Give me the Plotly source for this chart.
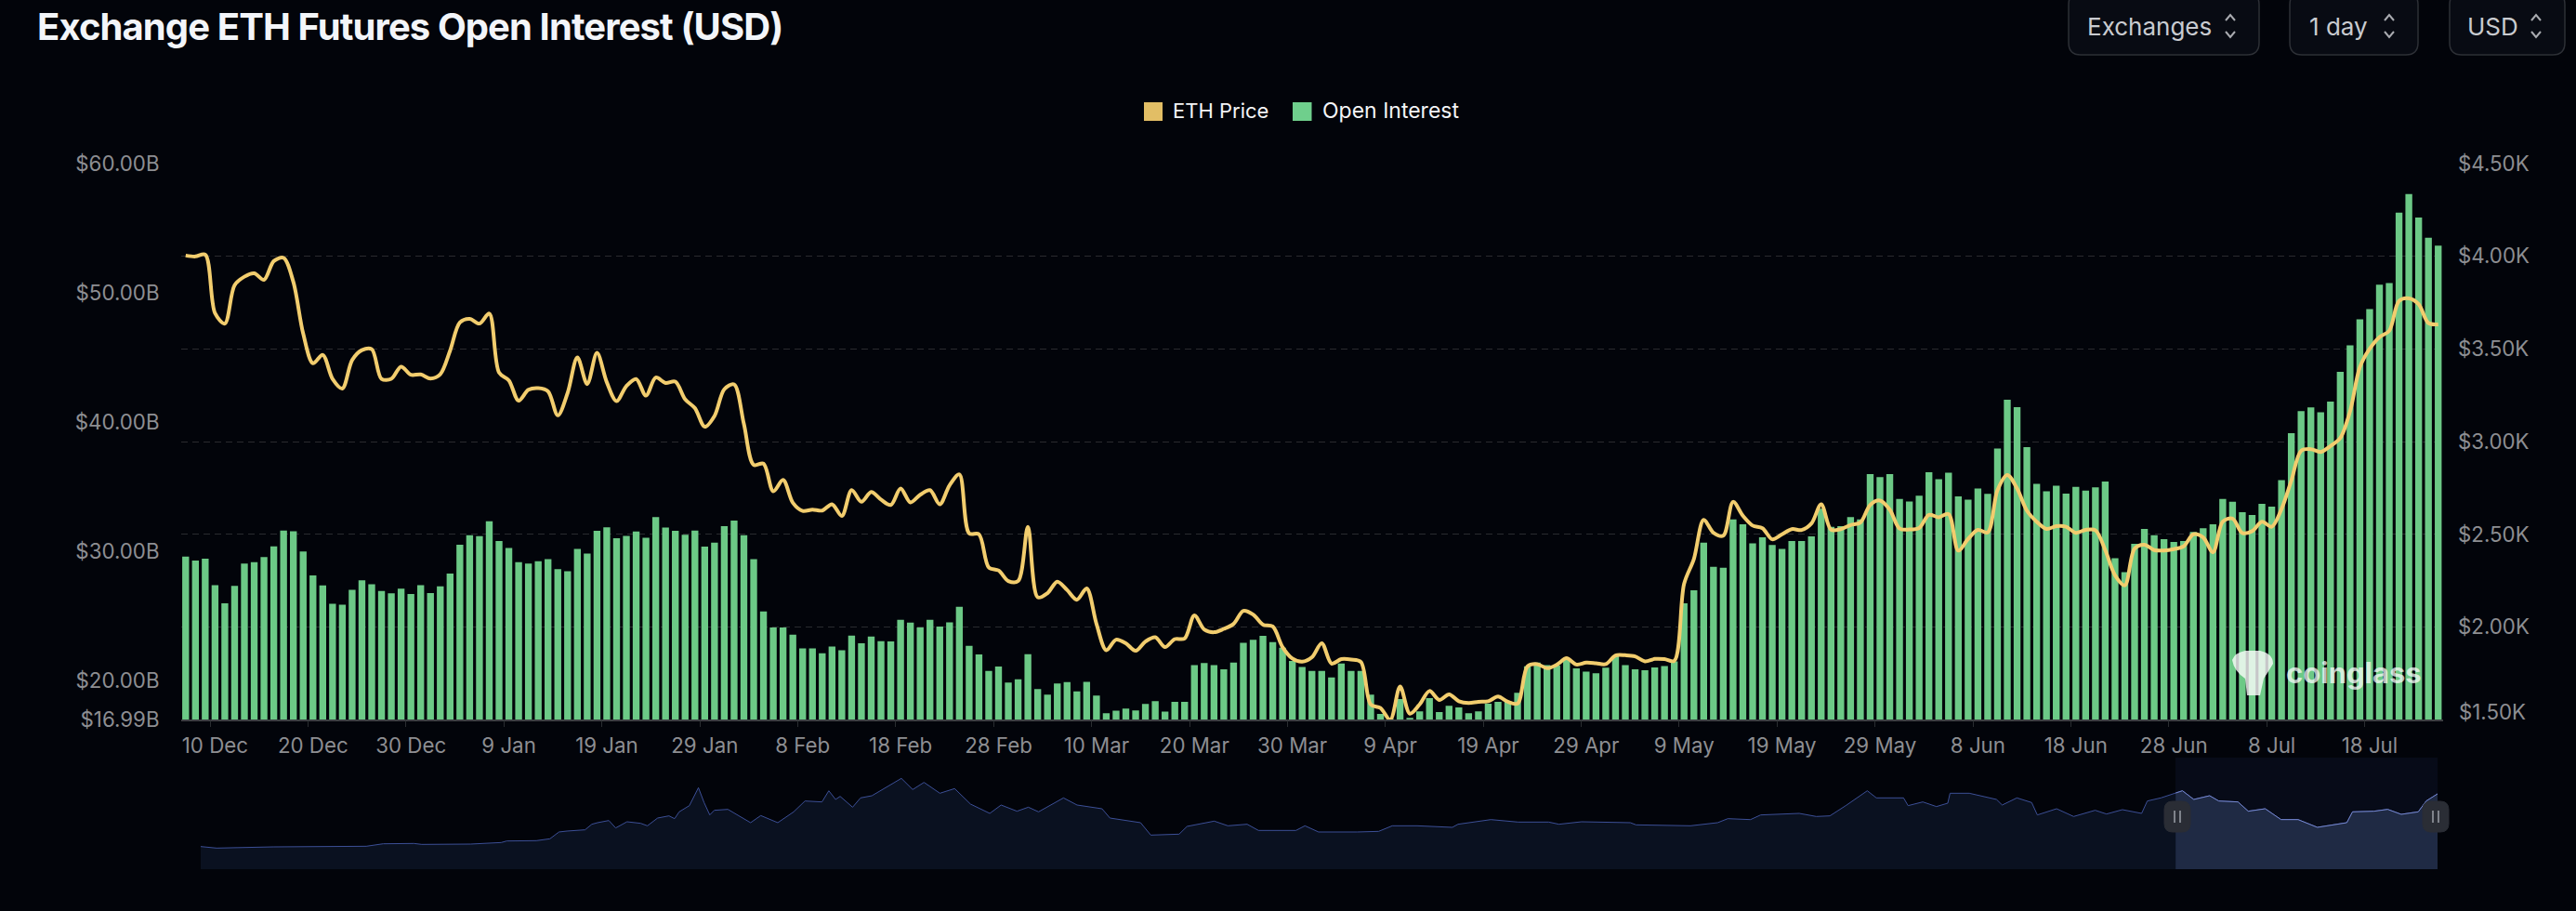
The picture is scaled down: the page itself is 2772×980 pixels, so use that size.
import numpy as np
import pandas as pd
import plotly.graph_objects as go

W, H = 2772, 980
FONT = "Inter"

dates = pd.date_range("2024-12-07", "2025-07-25", freq="D")
categories = [f"{d.day} {d.strftime('%b')}" for d in dates]

open_interest_b = [
 29.61,29.30,29.45,27.39,26.00,27.34,29.06,29.18,29.56,30.40,31.62,31.57,30.00,28.15,27.37,25.96,25.88,27.03,27.77,27.46,
 26.94,26.77,27.13,26.72,27.39,26.79,27.30,28.30,30.52,31.26,31.19,32.34,30.81,30.26,29.18,29.06,29.25,29.40,28.63,28.47,
 30.19,29.83,31.60,31.86,31.02,31.21,31.55,31.05,32.65,31.84,31.60,31.29,31.62,30.38,30.69,31.95,32.38,31.26,29.40,25.36,
 24.12,24.12,23.57,22.51,22.51,22.13,22.66,22.37,23.49,22.90,23.42,23.06,23.04,24.71,24.50,24.12,24.71,24.19,24.52,25.72,
 22.71,22.04,20.77,21.10,19.86,20.12,22.06,19.36,18.93,19.79,19.91,19.19,19.93,18.86,17.50,17.69,17.85,17.71,18.21,18.43,
 17.62,18.38,18.38,21.22,21.37,21.22,20.89,21.41,22.94,23.18,23.47,22.99,22.56,21.53,21.08,20.77,20.77,20.27,21.34,20.77,
 20.77,18.93,17.45,17.07,18.60,17.14,17.64,18.67,17.59,18.07,17.95,17.50,17.64,18.24,18.38,18.45,19.07,21.13,21.41,21.22,
 21.18,21.65,20.96,20.72,20.58,21.01,21.94,21.22,20.89,20.82,21.03,21.15,21.51,
 25.99,27.00,30.68,28.81,28.74,32.47,32.10,30.63,31.10,30.50,30.20,30.80,30.80,31.16,33.30,31.90,31.95,32.66,32.47,35.98,
 35.75,35.98,34.05,33.86,34.31,36.13,35.58,36.08,34.26,34.00,34.86,34.46,37.95,41.72,41.15,38.06,35.22,34.65,35.08,34.48,
 35.00,34.70,34.96,35.41,29.47,28.40,30.59,31.74,31.26,30.95,30.74,30.80,31.50,31.80,32.10,34.06,33.84,33.03,32.82,33.68,
 33.46,35.52,39.15,40.85,41.13,40.75,41.59,43.88,45.94,47.94,48.73,50.62,50.74,56.18,57.63,55.82,54.24,53.64,
]

eth_price = [
 4003,3998,4008,3692,3636,3843,3889,3907,3872,3973,3990,3860,3582,3422,3467,3338,3286,3439,3493,3498,
 3338,3338,3404,3360,3362,3340,3363,3490,3642,3662,3636,3690,3372,3330,3220,3279,3288,3271,3141,3262,
 3453,3310,3478,3320,3218,3299,3337,3248,3345,3316,3323,3228,3180,3080,3138,3282,3308,3095,2874,2881,
 2732,2793,2670,2626,2633,2628,2662,2599,2738,2675,2728,2687,2658,2747,2672,2713,2738,2662,2764,2823,
 2505,2500,2322,2305,2248,2248,2540,2160,2183,2245,2200,2147,2208,2017,1875,1932,1912,1872,1922,1945,
 1892,1935,1938,2063,1987,1972,1990,2017,2087,2067,2013,2003,1892,1830,1813,1837,1913,1803,1827,1825,
 1812,1583,1563,1500,1680,1533,1583,1655,1607,1637,1600,1590,1597,1600,1625,1597,1588,1787,1800,1778,
 1797,1832,1798,1808,1805,1800,1847,1848,1842,1815,1828,1827,1818,2233,2367,2578,2508,2492,2675,2600,
 2547,2533,2473,2500,2528,2523,2558,2662,2525,2528,2550,2563,2658,2682,2633,2531,2526,2534,2605,2592,
 2609,2412,2475,2524,2510,2738,2820,2747,2628,2568,2529,2544,2541,2508,2524,2522,2415,2279,2225,2423,
 2444,2415,2413,2420,2435,2500,2483,2403,2568,2585,2507,2517,2568,2541,2636,2789,2950,2959,2944,2976,
 3019,3163,3401,3500,3563,3597,3758,3772,3741,3639,3632,
]

if len(open_interest_b) != len(categories) or len(eth_price) != len(categories):
    raise SystemExit(f"len {len(open_interest_b)} {len(eth_price)} {len(categories)}")

x_tick_labels = categories[3::10]
oi_ticks = [16.99, 20, 30, 40, 50, 60]
oi_tick_labels = ["$16.99B", "$20.00B", "$30.00B", "$40.00B", "$50.00B", "$60.00B"]
price_ticks = [2000, 2500, 3000, 3500, 4000, 4500]
price_tick_labels = ["$2.00K", "$2.50K", "$3.00K", "$3.50K", "$4.00K", "$4.50K"]

overview_days = [
 0,14,64,113,146,161,188,195,238,265,270,296,308,316,323,339,345,350,360,366,376,388,394,403,413,418,422,431,439,444,449,453,465,485,494,509,523,533,548,554,560,564,
 575,582,592,618,628,638,652,665,679,696,706,720,730,739,761,773,795,802,829,838,863,870,894,906,923,933,966,974,986,1020,1039,1051,1073,1104,1109,1138,1162,1189,1198,1218,1261,1266,1314,
 1338,1347,1367,1376,1410,1425,1437,1451,1470,1478,1502,1506,1519,1531,1541,1543,1560,1584,1589,1602,1615,1620,1637,1652,1671,1681,1695,1712,1717,1729,1748,1758,1772,1780,1797,1806,1821,1835,1850,1867,1893,1898,1917,1929,1941,1956,1963,1973,
]
overview_price = [
 167,60,145,188,188,360,382,317,339,446,554,575,704,1178,1242,1328,1715,1823,1973,1457,1887,1780,1607,2145,2296,2102,2575,3005,4252,3220,2360,2682,2747,1823,2317,1823,2575,3328,3263,4037,3435,3650,
 2897,3543,3693,4897,4123,4618,3865,4188,3113,2468,3048,2618,2897,2575,3543,3048,2790,2145,1823,963,1027,1565,1930,1608,1715,1285,1285,1608,1178,1178,1220,1608,1608,1500,1715,2037,1865,1865,1715,1887,1823,1672,1608,
 1823,2102,2037,2360,2468,2253,2296,3005,4037,3543,3543,3005,3263,2940,3177,3865,3865,3435,3048,3543,3220,2360,2790,2253,2683,2425,2725,2468,3328,3543,4037,3435,3693,3328,3263,2618,2790,2037,2037,1500,1823,2575,2618,2747,2403,2575,3328,3822,
]
if len(overview_days) != len(overview_price):
    raise SystemExit(f"overview {len(overview_days)} {len(overview_price)}")

BG = "#02040A"
GREEN = "#6CC986"
YELLOW = "#F2CD6E"
TICK = "#8D8E92"
GRID = "#2A2B2F"

def px(x): return x / W
def py(y): return 1 - y / H

plot_l, plot_r, plot_t, plot_b = 194.5, 2629, 175.7, 774.3
nav_l, nav_r, nav_t, nav_b = 216, 2623, 815, 935
NAV_FLOOR = 1402
NAV_TOP = 7739
WINDOW_START = 1742

fig = go.Figure()
fig.add_bar(x=categories, y=open_interest_b, name="Open Interest", marker=dict(color=GREEN, line_width=0),
            width=0.7, xaxis="x", yaxis="y", showlegend=False)
fig.add_scatter(x=categories, y=eth_price, name="ETH Price", mode="lines",
                line=dict(color=YELLOW, width=4, shape="spline", smoothing=0.9), xaxis="x", yaxis="y2", showlegend=False)
# tick marks sit on the band edges
edges = [i + 2.5 for i in range(0, 231, 10)]
fig.add_scatter(x=edges, y=[1500] * len(edges), mode="lines", line=dict(width=0), opacity=0, hoverinfo="skip",
                xaxis="x3", yaxis="y2", showlegend=False)

days = np.array(overview_days, float)
vals = np.array(overview_price, float) + NAV_FLOOR
fig.add_scatter(x=days, y=vals, mode="lines", line=dict(color="#3C4F96", width=1), fill="tozeroy",
                fillcolor="#0A1120", xaxis="x2", yaxis="y3", showlegend=False, hoverinfo="skip")
mask = days >= WINDOW_START
sel_x = np.r_[WINDOW_START, days[mask]]
sel_y = np.r_[np.interp(WINDOW_START, days, vals), vals[mask]]
fig.add_scatter(x=sel_x, y=sel_y, mode="lines", line=dict(color="#7688D0", width=1), fill="tozeroy",
                fillcolor="#1F2A44", xaxis="x2", yaxis="y3", showlegend=False, hoverinfo="skip")

shapes = []
ann = []

def rrect(x0, y0, x1, y1, r, fill, line=None, width=1, layer="above"):
    p = (f"M {px(x0+r)} {py(y0)} L {px(x1-r)} {py(y0)} Q {px(x1)} {py(y0)} {px(x1)} {py(y0+r)} "
         f"L {px(x1)} {py(y1-r)} Q {px(x1)} {py(y1)} {px(x1-r)} {py(y1)} "
         f"L {px(x0+r)} {py(y1)} Q {px(x0)} {py(y1)} {px(x0)} {py(y1-r)} "
         f"L {px(x0)} {py(y0+r)} Q {px(x0)} {py(y0)} {px(x0+r)} {py(y0)} Z")
    shapes.append(dict(type="path", path=p, xref="paper", yref="paper", fillcolor=fill,
                       line=dict(color=line or fill, width=width), layer=layer))

def text(x, y, s, size, color, anchor="left", bold=False, opacity=1):
    ann.append(dict(x=px(x), y=py(y), xref="paper", yref="paper", text=f"<b>{s}</b>" if bold else s, showarrow=False,
                    xanchor=anchor, yanchor="middle", font=dict(family=FONT, size=size, color=color), opacity=opacity))

def segs(pts, color, width=2):
    p = "M " + " L ".join(f"{px(a)} {py(b)}" for a, b in pts)
    shapes.append(dict(type="path", path=p, xref="paper", yref="paper", line=dict(color=color, width=width)))

# header
text(20, 28, "Exchange ETH Futures Open Interest (USD)", 40, "#F3F5F9", bold=True)
for x0, x1, label, tx, cx in [(2226, 2431, "Exchanges", 2244, 2400), (2464, 2602, "1 day", 2483, 2571), (2636, 2760, "USD", 2653, 2729)]:
    rrect(x0, -8, x1, 59, 13, "#080B13", "#2D3036", 1.5)
    text(tx, 28, label, 26, "#C9CBD0")
    segs([(cx - 5, 22), (cx, 16), (cx + 5, 22)], "#A9ABB0")
    segs([(cx - 5, 34), (cx, 40), (cx + 5, 34)], "#A9ABB0")

# legend
shapes.append(dict(type="rect", xref="paper", yref="paper", x0=px(1231), x1=px(1251), y0=py(130), y1=py(110),
                   fillcolor="#E2BE65", line_width=0))
shapes.append(dict(type="rect", xref="paper", yref="paper", x0=px(1391), x1=px(1411.5), y0=py(130), y1=py(110),
                   fillcolor="#6FCF8C", line_width=0))
text(1260, 119, "ETH Price", 22, "#F4F5F7")
text(1421, 119, "Open Interest", 23, "#F4F5F7")

# lowest right-axis label sits above the axis
ann.append(dict(x=px(plot_r), y=1500, xref="paper", yref="y2", text="$1.50K", showarrow=False, xanchor="left", yanchor="middle",
                xshift=15, yshift=9, font=dict(family=FONT, size=22.3, color=TICK)))

# watermark
ann.append(dict(x=px(2458), y=py(723), xref="paper", yref="paper", text="<b>coinglass</b>", showarrow=False, xanchor="left",
                yanchor="middle", font=dict(family=FONT, size=31, color="rgba(255,255,255,0.72)")))
icon = (f"M {px(2416)} {py(700)} L {px(2432)} {py(700)} Q {px(2446)} {py(703)} {px(2446)} {py(714)} "
        f"Q {px(2440)} {py(724)} {px(2436)} {py(730)} L {px(2432)} {py(748)} L {px(2418)} {py(748)} L {px(2416)} {py(730)} "
        f"Q {px(2404)} {py(722)} {px(2402)} {py(710)} Q {px(2405)} {py(702)} {px(2416)} {py(700)} Z")
shapes.append(dict(type="path", path=icon, xref="paper", yref="paper", fillcolor="rgba(255,255,255,0.78)", line_width=0))

# overview window
shapes.append(dict(type="rect", xref="paper", yref="paper", x0=px(2341), x1=px(nav_r), y0=py(nav_b), y1=py(nav_t),
                   fillcolor="#070B18", line_width=0, layer="below"))
for cx in (2343, 2621):
    rrect(cx - 14, 862, cx + 14, 895, 9, "#2A2D35")
    segs([(cx - 3, 872), (cx - 3, 885)], "#9DA0A8", 1.5)
    segs([(cx + 3, 872), (cx + 3, 885)], "#9DA0A8", 1.5)

tf = dict(family=FONT, size=22.3, color=TICK)
fig.update_layout(
    width=W, height=H, autosize=False, margin=dict(l=0, r=0, t=0, b=0, autoexpand=False),
    paper_bgcolor=BG, plot_bgcolor=BG, showlegend=False, bargap=0.3,
    shapes=shapes, annotations=ann,
    xaxis=dict(domain=[px(plot_l), px(plot_r)], type="category", range=[-0.5, 230.5], anchor="y",
               tickmode="array", tickvals=x_tick_labels, ticktext=x_tick_labels, ticks="", tickfont=tf,
               ticklabelstandoff=7, showgrid=False, showline=True, linecolor="#3C3F42", linewidth=1.5,
               zeroline=False, fixedrange=True),
    xaxis3=dict(domain=[px(plot_l), px(plot_r)], range=[-0.5, 230.5], anchor="y2", overlaying="x", side="bottom",
                tickmode="array", tickvals=edges, ticks="outside", ticklen=7, tickcolor="#2A2D31", tickwidth=1,
                showticklabels=False, showgrid=False, showline=False, zeroline=False),
    yaxis=dict(domain=[py(plot_b), py(plot_t)], range=[16.99, 60], anchor="x", tickmode="array", tickvals=oi_ticks,
               ticktext=oi_tick_labels, tickfont=tf, ticklabelstandoff=22, showgrid=False, zeroline=False, showline=False),
    yaxis2=dict(domain=[py(plot_b), py(plot_t)], range=[1500, 4500], anchor="x", overlaying="y", side="right",
                tickmode="array", tickvals=price_ticks, ticktext=price_tick_labels, tickfont=tf, ticklabelstandoff=15,
                showgrid=True, gridcolor=GRID, griddash="7px,5px", gridwidth=1.2, zeroline=False, showline=False),
    xaxis2=dict(domain=[px(nav_l), px(nav_r)], range=[0, 1973], anchor="y3", visible=False),
    yaxis3=dict(domain=[py(nav_b), py(nav_t)], range=[0, NAV_TOP], anchor="x2", visible=False),
)

post = ("document.body.style.margin='0';document.body.style.background='%s';document.body.style.overflow='hidden';"
        "document.querySelectorAll('.annotation-text').forEach(function(t){"
        "if(t.textContent.indexOf('Exchange ETH')===0){t.style.letterSpacing='-0.9px';}});") % BG
fig.write_html("out.html", config=dict(displayModeBar=False), post_script=post)
